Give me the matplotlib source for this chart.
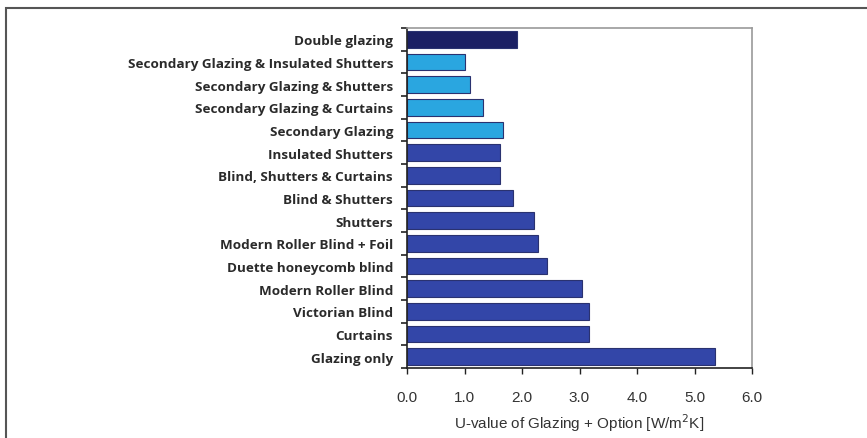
import matplotlib
matplotlib.use('Agg')
import matplotlib.pyplot as plt
import matplotlib.patches as mpatches
import numpy as np

# categories from bottom to top
labels = ['Glazing only', 'Curtains', 'Victorian Blind', 'Modern Roller Blind',
          'Duette honeycomb blind', 'Modern Roller Blind + Foil', 'Shutters',
          'Blind & Shutters', 'Blind, Shutters & Curtains', 'Insulated Shutters',
          'Secondary Glazing', 'Secondary Glazing & Curtains',
          'Secondary Glazing & Shutters', 'Secondary Glazing & Insulated Shutters',
          'Double glazing']
u_values = [5.36, 3.17, 3.17, 3.05, 2.44, 2.27, 2.2, 1.85, 1.62, 1.62,
            1.67, 1.32, 1.1, 1.0, 1.92]
groups = ['single'] * 10 + ['secondary'] * 4 + ['double']

COLORS = {'single': '#3346a8', 'secondary': '#2aa6e0', 'double': '#1b1f63'}
LABEL_FONT = 'Open Sans'
TICK_FONT = 'Liberation Sans'

fig = plt.figure(figsize=(8.67, 4.39), dpi=100)
fig.patch.set_facecolor('white')
frame = mpatches.Rectangle((6/867, -0.1), 1.0, 1 - 9/439 + 0.1, transform=fig.transFigure,
                           fill=False, edgecolor='#555555', lw=1.5)
fig.patches.append(frame)

ax = fig.add_axes([407/867, 1 - 369/439, 345/867, 340/439])
y = np.arange(len(labels))
ax.barh(y, u_values, height=0.74, color=[COLORS[g] for g in groups],
        edgecolor='#2a3270', linewidth=0.8)

ax.set_xlim(0, 6)
ax.set_ylim(-0.5, len(labels) - 0.5)
ax.set_xticks(np.arange(0, 6.1, 1.0))
ax.set_xticklabels([f'{v:.1f}' for v in np.arange(0, 6.1, 1.0)],
                   fontsize=11, fontfamily=TICK_FONT, color='#333333')
ax.set_yticks(y)
ax.set_yticklabels(labels, fontsize=9.7, fontfamily=LABEL_FONT,
                   fontweight='bold', color='#2a2a2a')
ax.tick_params(axis='y', length=0, pad=10)
ax.set_yticks(np.arange(-0.5, len(labels), 1.0), minor=True)
ax.tick_params(axis='y', which='minor', length=4, width=1.2, color='#222222')
ax.tick_params(axis='x', length=4, width=1.0, color='#222222', pad=12)

ax.set_xlabel('U-value of Glazing + Option [W/m$^2$K]', fontsize=11,
              fontfamily=TICK_FONT, color='#333333', labelpad=5)

for side in ['top', 'right']:
    ax.spines[side].set_color('#9a9a9a')
    ax.spines[side].set_linewidth(1.2)
for side in ['left', 'bottom']:
    ax.spines[side].set_color('#222222')
    ax.spines[side].set_linewidth(1.2)

fig.savefig('out.png', dpi=100, facecolor='white')
